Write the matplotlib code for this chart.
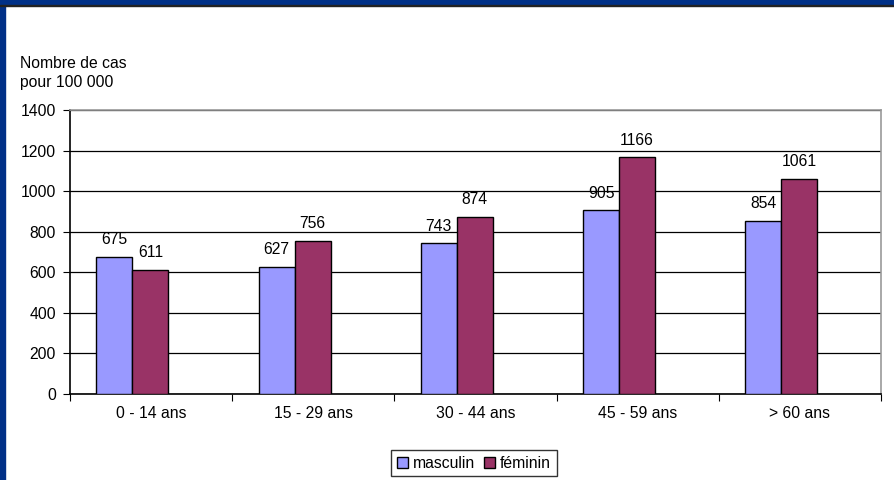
import numpy as np
import matplotlib.pyplot as plt
from matplotlib.patches import Rectangle

plt.rcParams['font.family'] = ['Liberation Sans', 'DejaVu Sans']

# data
categories = ['0 - 14 ans', '15 - 29 ans', '30 - 44 ans', '45 - 59 ans', '> 60 ans']
masculin = [675, 627, 743, 905, 854]
feminin = [611, 756, 874, 1166, 1061]
yticks = [0, 200, 400, 600, 800, 1000, 1200, 1400]

blue = '#9999FF'
maroon = '#993366'
fs = 11.3

fig = plt.figure(figsize=(8.94, 4.8), dpi=100)
ax = fig.add_axes([70 / 894, 1 - 394 / 480, 811 / 894, 284 / 480])

x = np.arange(len(categories))
w = 0.222
b1 = ax.bar(x - w / 2 - 0.115, masculin, w, color=blue, edgecolor='black', linewidth=1, label='masculin', zorder=3)
b2 = ax.bar(x + w / 2 - 0.115, feminin, w, color=maroon, edgecolor='black', linewidth=1, label='féminin', zorder=3)

for bars, vals in [(b1, masculin), (b2, feminin)]:
    for r, v in zip(bars, vals):
        ax.annotate(str(v), (r.get_x() + r.get_width() / 2, v), xytext=(0, 7),
                    textcoords='offset points', ha='center', va='bottom', fontsize=fs)

ax.set_xlim(-0.5, len(categories) - 0.5)
ax.set_ylim(0, 1400)
ax.set_yticks(yticks)
ax.set_yticklabels([str(t) for t in yticks], fontsize=fs)
ax.yaxis.grid(True, color='black', linewidth=0.9, zorder=0)
ax.set_axisbelow(True)

# category labels at centres, tick marks at boundaries
ax.set_xticks(np.arange(-0.5, len(categories)), minor=False)
ax.set_xticklabels([''] * (len(categories) + 1))
ax.set_xticks(x, minor=True)
ax.set_xticklabels(categories, minor=True, fontsize=fs)
ax.tick_params(axis='x', which='minor', length=0, pad=9)
ax.tick_params(axis='x', which='major', length=5, direction='out', color='black')
ax.tick_params(axis='y', length=5, direction='out', pad=5)

ax.spines['left'].set_color('black')
ax.spines['bottom'].set_color('black')
ax.spines['top'].set_color('#999999')
ax.spines['right'].set_color('#999999')
for s in ax.spines.values():
    s.set_linewidth(1.2)

fig.text(20 / 894, 1 - 64 / 480, 'Nombre de cas', fontsize=fs, va='center', ha='left')
fig.text(20 / 894, 1 - 82 / 480, 'pour 100 000', fontsize=fs, va='center', ha='left')

leg = fig.legend(handles=[b1, b2], loc='center', bbox_to_anchor=(474 / 894, 1 - 463 / 480),
                 ncol=2, frameon=True, fancybox=False, edgecolor='black', fontsize=fs,
                 handlelength=0.7, handleheight=0.7, handletextpad=0.3, columnspacing=0.6,
                 borderpad=0.35, borderaxespad=0)
leg.get_frame().set_linewidth(1)

# blue frame on left and top edge
fig.patches.append(Rectangle((0, 0), 5 / 894, 1, transform=fig.transFigure, color='#003087', zorder=10))
fig.patches.append(Rectangle((0, 1 - 5 / 480), 1, 5 / 480, transform=fig.transFigure, color='#003087', zorder=10))
fig.patches.append(Rectangle((0, 1 - 6 / 480), 1, 1 / 480, transform=fig.transFigure, color='#222222', zorder=10))

fig.savefig('out.png', dpi=100)
